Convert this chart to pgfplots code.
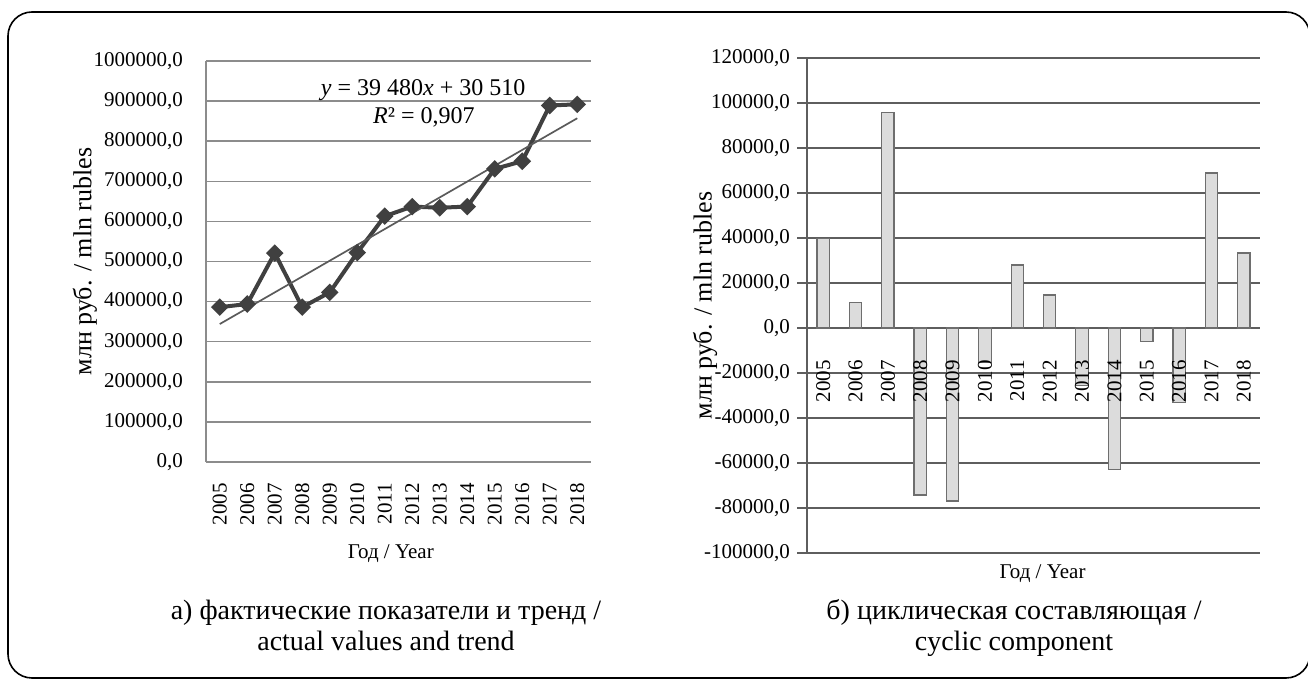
\documentclass[border=0pt]{standalone}
\usepackage{fontspec}
\setmainfont{Liberation Serif}
\usepackage{pgfplots}
\pgfplotsset{compat=1.18}
\definecolor{lineC}{HTML}{404040}
\definecolor{trendC}{HTML}{5A5A5A}
\definecolor{gridL}{HTML}{8C8C8C}
\definecolor{gridR}{HTML}{5E5E5E}
\definecolor{barF}{HTML}{DCDCDC}
\definecolor{barD}{HTML}{6E6E6E}
\pgfplotsset{
  tickfont/.style={font=\fontsize{10.5}{12}\selectfont},
  numfmt/.style={/pgf/number format/fixed, /pgf/number format/fixed zerofill, /pgf/number format/precision=1, /pgf/number format/use comma, /pgf/number format/1000 sep={}, /pgf/number format/assume math mode=true},
  rightgeom/.style={at={(403.5pt,63.5pt)}, anchor=south west,
    scale only axis, width=226.5pt, height=247.5pt,
    xmin=-0.5, xmax=13.5, ymin=-100000, ymax=120000},
}
\begin{document}
\begin{tikzpicture}
\useasboundingbox (0,0) rectangle (654pt,340pt);
\draw[line width=0.8pt, rounded corners=12pt] (4pt,1pt) rectangle (655pt,334pt);

% ---------- left chart ----------
\begin{axis}[
  at={(103pt,109pt)}, anchor=south west,
  scale only axis, width=192.5pt, height=200.5pt,
  xmin=-0.5, xmax=13.5, ymin=0, ymax=1000000,
  axis lines*=left,
  axis line style={gridL, line width=0.75pt},
  ymajorgrids, grid style={gridL, line width=0.75pt},
  ytick={0,100000,...,1000000},
  scaled y ticks=false,
  yticklabel style={numfmt, tickfont, xshift=-8pt},
  xtick={0,...,13},
  xticklabels={2005,2006,2007,2008,2009,2010,2011,2012,2013,2014,2015,2016,2017,2018},
  xticklabel style={tickfont, yshift=-7pt, rotate=90, anchor=east},
  major tick length=0pt,
  xlabel={Год / Year},
  every axis x label/.style={font=\fontsize{10.5}{12}\selectfont, at={(rel axis cs:0.48,0)}, yshift=-46pt, anchor=center},
  ylabel={млн руб. / mln rubles},
  every axis y label/.style={font=\fontsize{13}{15}\selectfont, at={(rel axis cs:0,0.5)}, xshift=-60.5pt, rotate=90, anchor=center},
  clip=false,
]
\addplot[lineC, line width=2pt, mark=square*, mark size=2.1pt, mark options={rotate=45, solid, fill=lineC}] coordinates {
(0,386000) (1,394000) (2,521000) (3,386000) (4,423000) (5,522000) (6,613000)
(7,637000) (8,634000) (9,637000) (10,731000) (11,750000) (12,889000) (13,892000)};
\addplot[trendC, line width=0.85pt] coordinates {(0,343990) (13,857230)};
\node[font=\fontsize{12}{14}\selectfont, anchor=center] at (rel axis cs:0.564,0.928) {\textit{y} = 39 480\textit{x} + 30 510};
\node[font=\fontsize{12}{14}\selectfont, anchor=center] at (rel axis cs:0.566,0.86) {\textit{R}² = 0,907};
\end{axis}

% ---------- right chart ----------
\begin{axis}[
  rightgeom,
  axis y line*=left, axis x line*=middle,
  axis line style={gridR, line width=0.6pt},
  ymajorgrids, grid style={gridR, line width=0.6pt},
  ytick={-100000,-80000,...,120000},
  scaled y ticks=false,
  yticklabel style={numfmt, tickfont},
  ytick style={gridR, line width=0.6pt},
  tick align=outside, major tick length=5pt,
  xtick=\empty,
  xlabel={Год / Year},
  every axis x label/.style={font=\fontsize{10.5}{12}\selectfont, at={(rel axis cs:0.52,0)}, yshift=-10.5pt, anchor=center},
  ylabel={млн руб. / mln rubles},
  every axis y label/.style={font=\fontsize{13}{15}\selectfont, at={(rel axis cs:0,0.5)}, xshift=-51pt, rotate=90, anchor=center},
  clip=false,
]
\addplot[ybar, bar width=6.2pt, fill=barF, draw=barD, line width=0.6pt] coordinates {
(0,39800) (1,11200) (2,95700) (3,-74200) (4,-76900) (5,-15200) (6,28000)
(7,14700) (8,-25600) (9,-62800) (10,-6100) (11,-33000) (12,68900) (13,33300)};
\end{axis}
% overlay axis: category labels drawn above the bars
\begin{axis}[
  rightgeom,
  axis y line=none, axis x line*=middle,
  x axis line style={draw=none},
  ytick=\empty,
  xtick={0,...,13},
  xtick style={draw=none},
  xticklabels={2005,2006,2007,2008,2009,2010,2011,2012,2013,2014,2015,2016,2017,2018},
  xticklabel style={tickfont, yshift=-12.5pt, rotate=90, anchor=east},
]
\end{axis}

% ---------- captions ----------
\node[font=\fontsize{14}{17}\selectfont, anchor=base] at (193pt,30pt) {а) фактические показатели и тренд /};
\node[font=\fontsize{14}{17}\selectfont, anchor=base] at (193pt,14.5pt) {actual values and trend};
\node[font=\fontsize{14}{17}\selectfont, anchor=base] at (507pt,30pt) {б) циклическая составляющая /};
\node[font=\fontsize{14}{17}\selectfont, anchor=base] at (507pt,14.5pt) {cyclic component};
\end{tikzpicture}
\end{document}
